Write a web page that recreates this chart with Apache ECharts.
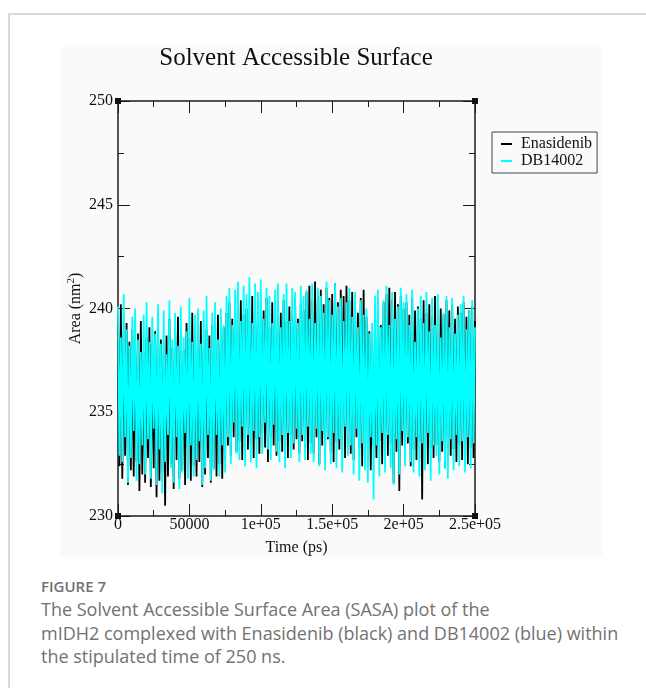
<!DOCTYPE html>
<html lang="en">

<head>
    <meta charset="UTF-8">
    <title>Solvent Accessible Surface</title>
    <script src="https://cdn.jsdelivr.net/npm/echarts@6/dist/echarts.min.js"></script>
    <style>
        body { margin: 0; width: 646px; height: 688px; background: #fff; position: relative; overflow: hidden; }
        .frame-top { position: absolute; left: 8px; top: 13px; width: 638px; height: 2px; background: #dadada; }
        .frame-left { position: absolute; left: 8px; top: 13px; width: 2px; height: 675px; background: #dadada; }
        #sasaChart { position: absolute; left: 60px; top: 47px; width: 543px; height: 510px; background: #fafafa; }
        .fig-label { position: absolute; left: 41px; top: 577px; font-family: 'Open Sans', sans-serif; font-weight: 600; font-size: 15px; color: #707070; line-height: 18px; }
        .fig-caption { position: absolute; left: 41px; top: 598px; font-family: 'Open Sans', sans-serif; font-size: 18px; color: #727272; line-height: 23.5px; white-space: nowrap; }
    </style>
</head>

<body>
    <div class="frame-top"></div>
    <div class="frame-left"></div>
    <div id="sasaChart"></div>
    <div class="fig-label">FIGURE 7</div>
    <div class="fig-caption">The Solvent Accessible Surface Area (SASA) plot of the<br>mIDH2 complexed with Enasidenib (black) and DB14002 (blue) within<br>the stipulated time of 250 ns.</div>
    <script>
        // one value every 1000 ps, 0 .. 250000 ps
        const sampleStep = 1000;

        // Enasidenib (black), area in nm^2
        const enasidenib = [
            239.6, 232.4, 240.2, 231.8, 238.9, 232.9, 239.3, 231.5, 238.4, 232.2,
            239.0, 231.9, 238.2, 232.6, 238.8, 231.2, 239.4, 232.0, 237.9, 231.6,
            238.6, 232.8, 239.1, 231.4, 238.3, 232.3, 238.9, 230.9, 239.2, 231.7,
            238.5, 232.1, 237.8, 230.5, 238.7, 231.9, 239.5, 232.5, 238.1, 231.3,
            238.9, 232.7, 239.6, 231.8, 238.4, 232.2, 238.0, 231.5, 239.3, 232.9,
            238.6, 231.7, 239.8, 232.4, 238.2, 231.9, 238.8, 232.6, 239.4, 231.4,
            238.1, 232.0, 239.0, 232.8, 238.7, 231.6, 239.2, 232.3, 238.5, 231.9,
            239.7, 232.5, 238.3, 231.8, 239.1, 232.7,
            239.8, 233.4, 240.3, 232.9, 239.5, 233.8, 240.1, 233.1, 239.2, 233.6,
            240.4, 232.7, 239.7, 233.9, 240.0, 233.2, 239.4, 233.5, 240.6, 232.8,
            239.6, 233.7, 240.2, 233.0, 239.3, 234.0, 239.9, 233.3, 240.5, 232.6,
            239.1, 233.8, 240.3, 233.4, 239.6, 232.9, 240.0, 233.6, 239.8, 233.1,
            240.4, 233.5, 239.4, 232.8, 240.1, 233.9, 239.7, 233.2, 240.5, 233.7,
            239.5, 233.0, 240.2, 233.6, 239.9,
            233.3, 240.8, 232.7, 241.1, 233.5, 240.4, 233.0, 241.3, 233.8, 240.6,
            232.5, 240.9, 233.4, 240.2, 232.9, 241.0, 233.7, 240.5, 233.1, 240.7,
            232.6, 241.2, 233.6, 240.3, 233.2, 240.9, 234.1, 240.6, 232.8, 241.1,
            233.5, 240.4, 233.0, 240.8, 232.7, 240.1, 233.8, 239.8, 233.3, 240.5,
            232.4, 240.9, 233.9, 239.6, 233.1, 238.9, 232.2, 238.3, 233.4, 237.6,
            232.8, 238.4, 233.6, 239.2, 232.5, 240.3, 233.2, 240.7, 232.9, 241.0,
            233.5, 240.4, 231.6, 240.8, 233.1, 240.2, 231.2, 240.6, 233.4, 240.0,
            232.9, 240.3, 233.5, 239.7, 232.4, 240.5, 233.2, 239.9, 232.7, 240.1,
            233.6, 239.5, 230.8, 240.4, 233.0, 239.8, 232.5, 240.2, 233.3, 239.6,
            232.8, 240.6, 233.4, 239.3, 232.6, 240.0, 233.1, 239.7, 232.3, 240.4,
            233.5, 239.9, 232.9, 240.2, 233.2, 239.5, 232.6, 240.1, 233.4, 239.8,
            232.7, 240.3, 233.0, 239.6, 232.5, 239.9, 233.3, 240.1, 232.8, 239.4
        ];

        // DB14002 (cyan), area in nm^2
        const db14002 = [
            240.1, 232.9, 238.6, 232.6, 240.7, 233.8, 239.0, 231.6, 238.2, 232.8,
            239.6, 234.1, 240.0, 231.7, 238.5, 232.5, 237.9, 233.4, 239.7, 232.0,
            240.3, 233.7, 238.4, 231.8, 239.6, 234.2, 238.8, 231.5, 240.2, 233.2,
            238.3, 231.1, 239.9, 232.6, 237.8, 233.9, 240.4, 232.3, 238.5, 231.6,
            239.8, 233.8, 238.2, 231.3, 240.1, 232.1, 238.6, 234.0, 238.9, 231.8,
            240.5, 233.4, 238.4, 231.9, 239.7, 232.7, 240.0, 233.6, 238.3, 231.5,
            239.9, 232.3, 240.6, 233.9, 238.1, 231.7, 239.8, 232.2, 240.3, 233.9,
            238.5, 231.9, 240.0, 233.4, 239.2, 232.1,
            240.6, 233.8, 241.0, 232.5, 239.2, 234.5, 240.9, 233.0, 241.3, 232.7,
            239.4, 234.3, 241.1, 232.4, 240.7, 233.9, 241.5, 232.6, 239.3, 234.1,
            241.2, 232.3, 240.8, 233.8, 241.4, 233.0, 239.5, 234.5, 241.0, 233.2,
            240.6, 232.7, 239.3, 234.4, 240.9, 233.1, 241.2, 232.6, 239.1, 233.9,
            240.7, 232.3, 241.2, 234.0, 239.4, 232.8, 241.0, 233.5, 240.8, 234.2,
            239.3, 232.6, 241.1, 233.9, 240.6,
            232.7, 240.9, 234.3, 239.5, 233.0, 241.2, 232.6, 239.3, 234.2, 241.0,
            232.4, 240.6, 234.1, 239.8, 232.2, 241.3, 233.8, 240.4, 232.5, 239.7,
            234.0, 241.2, 232.3, 240.1, 233.7, 240.5, 232.1, 239.4, 234.3, 240.3,
            232.9, 241.0, 233.4, 239.6, 232.0, 240.8, 234.2, 239.1, 231.7, 240.4,
            233.5, 239.7, 232.2, 240.0, 231.6, 238.8, 233.8, 239.3, 230.8, 240.6,
            233.4, 240.9, 231.9, 239.1, 234.0, 240.4, 232.1, 241.1, 233.9, 239.2,
            232.3, 240.8, 231.5, 239.5, 233.7, 240.1, 232.0, 241.0, 234.1, 240.3,
            232.4, 240.7, 233.8, 239.2, 232.6, 240.9, 232.1, 238.4, 233.8, 240.0,
            231.9, 240.6, 233.5, 239.3, 232.2, 240.8, 234.0, 238.9, 231.7, 240.5,
            233.4, 239.2, 232.9, 240.7, 232.0, 238.6, 233.6, 239.8, 232.3, 240.6,
            231.8, 239.1, 233.7, 240.5, 232.2, 238.8, 233.9, 239.7, 232.4, 240.2,
            233.6, 240.6, 232.1, 239.0, 233.8, 239.9, 232.3, 240.4, 233.5, 239.1
        ];

        const xTickValues = [0, 50000, 100000, 150000, 200000, 250000];
        const xTickLabels = ['0', '50000', '1e+05', '1.5e+05', '2e+05', '2.5e+05'];
        const yTickLabels = ['230', '235', '240', '245', '250'];

        const serif = "'Liberation Serif', 'DejaVu Serif', serif";
        const ink = '#1a1a1a';

        const toPairs = arr => arr.map((v, i) => [i * sampleStep, v]);

        const frameAxis = {
            min: 0,
            axisLine: { show: true, onZero: false, lineStyle: { color: ink, width: 1.5 } },
            axisTick: { show: true, inside: true, length: 12, lineStyle: { color: ink, width: 1 } },
            minorTick: { show: true, splitNumber: 2, length: 6, lineStyle: { color: ink, width: 1 } },
            splitLine: { show: false }
        };

        const chart = echarts.init(document.getElementById('sasaChart'));
        chart.setOption({
            animation: false,
            backgroundColor: '#fafafa',
            title: {
                text: 'Solvent Accessible Surface',
                left: 236,
                top: -1,
                padding: 0,
                textAlign: 'center',
                textStyle: { fontFamily: serif, fontSize: 25, fontWeight: 'normal', color: '#111' }
            },
            legend: {
                orient: 'vertical',
                left: 432,
                top: 85,
                padding: [4, 5, 4, 9],
                itemGap: 1,
                itemWidth: 11,
                itemHeight: 2,
                icon: 'rect',
                borderColor: '#444',
                borderWidth: 1,
                borderRadius: 0,
                textStyle: { fontFamily: serif, fontSize: 16, color: '#111', padding: [0, 0, 0, 4] },
                data: ['Enasidenib', 'DB14002']
            },
            grid: { left: 58, top: 54, width: 357, height: 415, containLabel: false, outerBoundsMode: 'none' },
            xAxis: [
                Object.assign({}, frameAxis, {
                    type: 'value',
                    max: 250000,
                    interval: 50000,
                    position: 'bottom',
                    name: 'Time (ps)',
                    nameLocation: 'middle',
                    nameGap: 24,
                    nameMoveOverlap: false,
                    nameTextStyle: { fontFamily: serif, fontSize: 16, color: '#111' },
                    axisLabel: {
                        margin: 1,
                        fontFamily: serif, fontSize: 16, color: '#111',
                        formatter: v => xTickLabels[xTickValues.indexOf(v)]
                    }
                }),
                Object.assign({}, frameAxis, {
                    type: 'value',
                    max: 250000,
                    interval: 50000,
                    position: 'top',
                    axisLabel: { show: false }
                })
            ],
            yAxis: [
                Object.assign({}, frameAxis, {
                    type: 'value',
                    min: 230,
                    max: 250,
                    interval: 5,
                    position: 'left',
                    name: 'Area (nm{sup|2})',
                    nameLocation: 'middle',
                    nameGap: 32,
                    nameMoveOverlap: false,
                    nameRotate: 90,
                    nameTextStyle: {
                        fontFamily: serif, fontSize: 16, color: '#111',
                        rich: { sup: { fontFamily: serif, fontSize: 11, color: '#111', verticalAlign: 'top', padding: [0, 0, 9, 0] } }
                    },
                    axisLabel: {
                        margin: 5,
                        fontFamily: serif, fontSize: 16, color: '#111',
                        formatter: v => yTickLabels[(v - 230) / 5]
                    }
                }),
                Object.assign({}, frameAxis, {
                    type: 'value',
                    min: 230,
                    max: 250,
                    interval: 5,
                    position: 'right',
                    axisLabel: { show: false }
                })
            ],
            series: [
                {
                    name: 'Enasidenib',
                    type: 'line',
                    data: toPairs(enasidenib),
                    showSymbol: false,
                    sampling: null,
                    color: '#000000',
                    lineStyle: { width: 1.8, color: '#000000' },
                    clip: true
                },
                {
                    name: 'DB14002',
                    type: 'line',
                    data: toPairs(db14002),
                    showSymbol: false,
                    sampling: null,
                    color: '#00ffff',
                    lineStyle: { width: 1.8, color: '#00ffff' },
                    clip: true
                }
            ]
        });

        // little square handles that xmgrace leaves on the frame corners
        const corners = [[0, 230], [250000, 230], [0, 250], [250000, 250]];
        chart.setOption({
            graphic: corners.map(c => {
                const p = chart.convertToPixel({ gridIndex: 0 }, c);
                return {
                    type: 'rect', z: 100,
                    shape: { x: p[0] - 3, y: p[1] - 3, width: 6, height: 6 },
                    style: { fill: '#111' }
                };
            })
        });
    </script>
</body>

</html>
